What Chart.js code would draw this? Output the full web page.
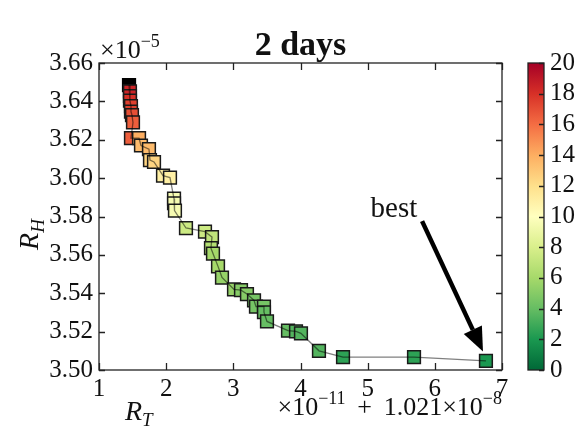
<!DOCTYPE html>
<html>
<head>
<meta charset="utf-8">
<script src="https://cdn.jsdelivr.net/npm/chart.js@4.4.0/dist/chart.umd.min.js"></script>
<style>
  html, body { margin: 0; padding: 0; background: #fff; }
  #wrap { width: 578px; height: 433px; }
</style>
</head>
<body>
<div id="wrap"><canvas id="myChart" width="578" height="433"></canvas></div>
<script>
// R_T in units of 1e-11 (offset 1.021e-8), R_H in units of 1e-5, colour = days
var rt = [1.461, 1.461, 1.461, 1.476, 1.476, 1.491, 1.506, 1.476, 1.596, 1.625,
          1.744, 1.759, 1.819, 1.953, 2.057, 2.117, 2.117, 2.131, 2.295, 2.578,
          2.682, 2.667, 2.697, 2.772, 2.831, 3.010, 3.114, 3.203, 3.308, 3.337,
          3.456, 3.456, 3.501, 3.814, 3.933, 4.007, 4.275, 4.633, 5.690, 6.761];
var rh = [3.6452, 3.6428, 3.6404, 3.6375, 3.6347, 3.6328, 3.6290, 3.6208, 3.6208, 3.6170,
          3.6151, 3.6094, 3.6084, 3.6013, 3.6003, 3.5893, 3.5869, 3.5831, 3.5740, 3.5721,
          3.5693, 3.5635, 3.5607, 3.5540, 3.5482, 3.5420, 3.5416, 3.5396, 3.5363, 3.5330,
          3.5330, 3.5301, 3.5253, 3.5205, 3.5201, 3.5191, 3.5100, 3.5067, 3.5067, 3.5048];
var days = [18.5, 18.5, 18, 17.5, 17.5, 17, 16.5, 16.5, 14, 13.5,
            13.5, 12.5, 12.5, 11, 11, 9.5, 9.5, 9.5, 7.5, 7.5,
            7, 6.5, 6, 6, 5.5, 5.5, 5, 5, 4.5, 4.5,
            4.5, 4, 4, 4, 3.5, 3.5, 3.5, 2.5, 2.5, 2];

// starting point (drawn black)
var startRt = [1.447];
var startRh = [3.6485];

var xTicks = [1, 2, 3, 4, 5, 6, 7];
var yTicks = [3.50, 3.52, 3.54, 3.56, 3.58, 3.60, 3.62, 3.64, 3.66];
var cbTicks = [0, 2, 4, 6, 8, 10, 12, 14, 16, 18, 20];

var titleText = '2 days';
var bestText = 'best';
var bestTextAt = [5.39, 3.5798];
var arrowFrom = [5.81, 3.5776];
var arrowTo = [6.717, 3.5096];

// RdYlGn reversed (0 = green, 20 = red)
var cmapStops = ['#006837', '#1a9850', '#66bd63', '#a6d96a', '#d9ef8b', '#ffffbf',
                 '#fee08b', '#fdae61', '#f46d43', '#d73027', '#a50026'];

function hexRgb(h) {
    return [parseInt(h.substr(1, 2), 16), parseInt(h.substr(3, 2), 16), parseInt(h.substr(5, 2), 16)];
}

function cmap(v) {
    var t = Math.max(0, Math.min(1, v / 20)) * (cmapStops.length - 1);
    var i = Math.min(Math.floor(t), cmapStops.length - 2);
    var f = t - i;
    var a = hexRgb(cmapStops[i]), b = hexRgb(cmapStops[i + 1]);
    var c = [0, 1, 2].map(function(k) { return Math.round(a[k] + (b[k] - a[k]) * f); });
    return 'rgb(' + c.join(',') + ')';
}

var pts = rt.map(function(x, i) { return {x: x, y: rh[i]}; });
var startPts = startRt.map(function(x, i) { return {x: x, y: startRh[i]}; });
var linePts = startPts.concat(pts);

var serif = '"Liberation Serif", "DejaVu Serif", serif';

// draw text with super/subscripts; parts = [[text, size, dy, italic]]
function richText(ctx, parts, x, y, align) {
    var w = 0;
    parts.forEach(function(p) {
        ctx.font = (p[3] ? 'italic ' : '') + p[1] + 'px ' + serif;
        p.w = ctx.measureText(p[0]).width;
        w += p.w;
    });
    var cx = align == 'right' ? x - w : (align == 'center' ? x - w / 2 : x);
    ctx.textAlign = 'left';
    ctx.textBaseline = 'alphabetic';
    parts.forEach(function(p) {
        ctx.font = (p[3] ? 'italic ' : '') + p[1] + 'px ' + serif;
        ctx.fillText(p[0], cx, y + p[2]);
        cx += p.w;
    });
}

var decor = {
    id: 'decor',
    afterDraw: function(chart) {
        var ctx = chart.ctx;
        var a = chart.chartArea;
        var sx = chart.scales.x, sy = chart.scales.y, cb = chart.scales.cb;
        ctx.save();
        ctx.strokeStyle = '#222';
        ctx.fillStyle = '#111';
        ctx.lineWidth = 1.3;

        // frame + inward ticks
        ctx.strokeRect(a.left, a.top, a.right - a.left, a.bottom - a.top);
        ctx.beginPath();
        xTicks.forEach(function(v) {
            var px = Math.round(sx.getPixelForValue(v)) + 0.5;
            ctx.moveTo(px, a.bottom); ctx.lineTo(px, a.bottom - 7);
            ctx.moveTo(px, a.top); ctx.lineTo(px, a.top + 7);
        });
        yTicks.forEach(function(v) {
            var py = Math.round(sy.getPixelForValue(v)) + 0.5;
            ctx.moveTo(a.left, py); ctx.lineTo(a.left + 6, py);
            ctx.moveTo(a.right, py); ctx.lineTo(a.right - 6, py);
        });
        ctx.stroke();

        // colorbar
        var cx0 = cb.left + 26, cw = 16;
        var cTop = cb.getPixelForValue(20), cBot = cb.getPixelForValue(0);
        var g = ctx.createLinearGradient(0, cBot, 0, cTop);
        cmapStops.forEach(function(c, i) { g.addColorStop(i / (cmapStops.length - 1), c); });
        ctx.fillStyle = g;
        ctx.fillRect(cx0, cTop, cw, cBot - cTop);
        ctx.strokeRect(cx0, cTop, cw, cBot - cTop);
        ctx.beginPath();
        cbTicks.forEach(function(v) {
            var py = Math.round(cb.getPixelForValue(v)) + 0.5;
            ctx.moveTo(cx0 + cw, py); ctx.lineTo(cx0 + cw - 5, py);
        });
        ctx.stroke();

        // title
        ctx.fillStyle = '#111';
        ctx.font = 'bold 34px ' + serif;
        ctx.textAlign = 'center';
        ctx.textBaseline = 'alphabetic';
        ctx.fillText(titleText, (a.left + a.right) / 2, a.top - 8);

        // axis labels
        richText(ctx, [['R', 28, 0, true], ['T', 19, 6, true]], 125, a.bottom + 50, 'left');
        ctx.save();
        ctx.translate(30, (a.top + a.bottom) / 2 + 18);
        ctx.rotate(-Math.PI / 2);
        richText(ctx, [['R', 28, 0, true], ['H', 19, 6, true]], 0, 8, 'center');
        ctx.restore();

        // offset texts
        richText(ctx, [['\u00d710', 26, 0], ['\u22125', 18, -11]], a.left + 1, a.top - 5, 'left');
        richText(ctx, [['\u00d710', 26, 0], ['\u221211', 18, -11], [' \u2009+ \u20091.021\u00d710', 26, 0], ['\u22128', 18, -11]],
                 a.right, a.bottom + 45, 'right');

        // annotation
        ctx.font = '29px ' + serif;
        ctx.textAlign = 'center';
        ctx.fillText(bestText, sx.getPixelForValue(bestTextAt[0]), sy.getPixelForValue(bestTextAt[1]));
        var x0 = sx.getPixelForValue(arrowFrom[0]), y0 = sy.getPixelForValue(arrowFrom[1]);
        var x1 = sx.getPixelForValue(arrowTo[0]), y1 = sy.getPixelForValue(arrowTo[1]);
        var ang = Math.atan2(y1 - y0, x1 - x0);
        var hl = 24, hw = 10;
        var bx = x1 - hl * Math.cos(ang), by = y1 - hl * Math.sin(ang);
        ctx.strokeStyle = '#000';
        ctx.lineWidth = 4.5;
        ctx.beginPath();
        ctx.moveTo(x0, y0); ctx.lineTo(bx, by);
        ctx.stroke();
        ctx.fillStyle = '#000';
        ctx.beginPath();
        ctx.moveTo(x1, y1);
        ctx.lineTo(bx - hw * Math.sin(ang), by + hw * Math.cos(ang));
        ctx.lineTo(bx + hw * Math.sin(ang), by - hw * Math.cos(ang));
        ctx.closePath();
        ctx.fill();
        ctx.restore();
    }
};

var tickFont = {family: serif, size: 25};

const ctx = document.getElementById('myChart').getContext('2d');
const myChart = new Chart(ctx, {
    type: 'scatter',
    data: {
        datasets: [
            {
                label: 'path',
                data: linePts,
                showLine: true,
                borderColor: 'rgba(0,0,0,0.5)',
                borderWidth: 1.3,
                pointRadius: 0,
                order: 0
            },
            {
                label: 'days',
                data: pts,
                pointStyle: 'rect',
                pointRadius: 9,
                pointBorderWidth: 1.5,
                pointBorderColor: '#1a1a1a',
                pointBackgroundColor: days.map(cmap),
                order: 1
            },
            {
                label: 'start',
                data: startPts,
                pointStyle: 'rect',
                pointRadius: 9,
                pointBorderWidth: 1.5,
                pointBorderColor: '#000',
                pointBackgroundColor: '#000',
                order: 2
            }
        ]
    },
    options: {
        responsive: false,
        animation: false,
        devicePixelRatio: 1,
        layout: { padding: {top: 40, left: 0, right: 0, bottom: 0} },
        plugins: { legend: {display: false}, tooltip: {enabled: false} },
        scales: {
            x: {
                type: 'linear', min: 1, max: 7,
                afterBuildTicks: function(s) { s.ticks = xTicks.map(function(v) { return {value: v}; }); },
                afterFit: function(s) { s.height = 58; },
                grid: {display: false, drawTicks: false},
                border: {display: false},
                ticks: {font: tickFont, color: '#111', padding: 4, maxRotation: 0, autoSkip: false,
                        callback: function(v) { return String(v); }}
            },
            y: {
                type: 'linear', min: 3.50, max: 3.66,
                afterBuildTicks: function(s) { s.ticks = yTicks.map(function(v) { return {value: v}; }); },
                afterFit: function(s) { s.width = 99; },
                grid: {display: false, drawTicks: false},
                border: {display: false},
                ticks: {font: tickFont, color: '#111', padding: 6, autoSkip: false,
                        callback: function(v) { return Number(v).toFixed(2); }}
            },
            cb: {
                type: 'linear', position: 'right', min: 0, max: 20,
                afterBuildTicks: function(s) { s.ticks = cbTicks.map(function(v) { return {value: v}; }); },
                afterFit: function(s) { s.width = 76; },
                grid: {display: false, drawTicks: false},
                border: {display: false},
                ticks: {font: tickFont, color: '#111', padding: 48, autoSkip: false,
                        callback: function(v) { return String(v); }}
            }
        }
    },
    plugins: [decor]
});
</script>
</body>
</html>
